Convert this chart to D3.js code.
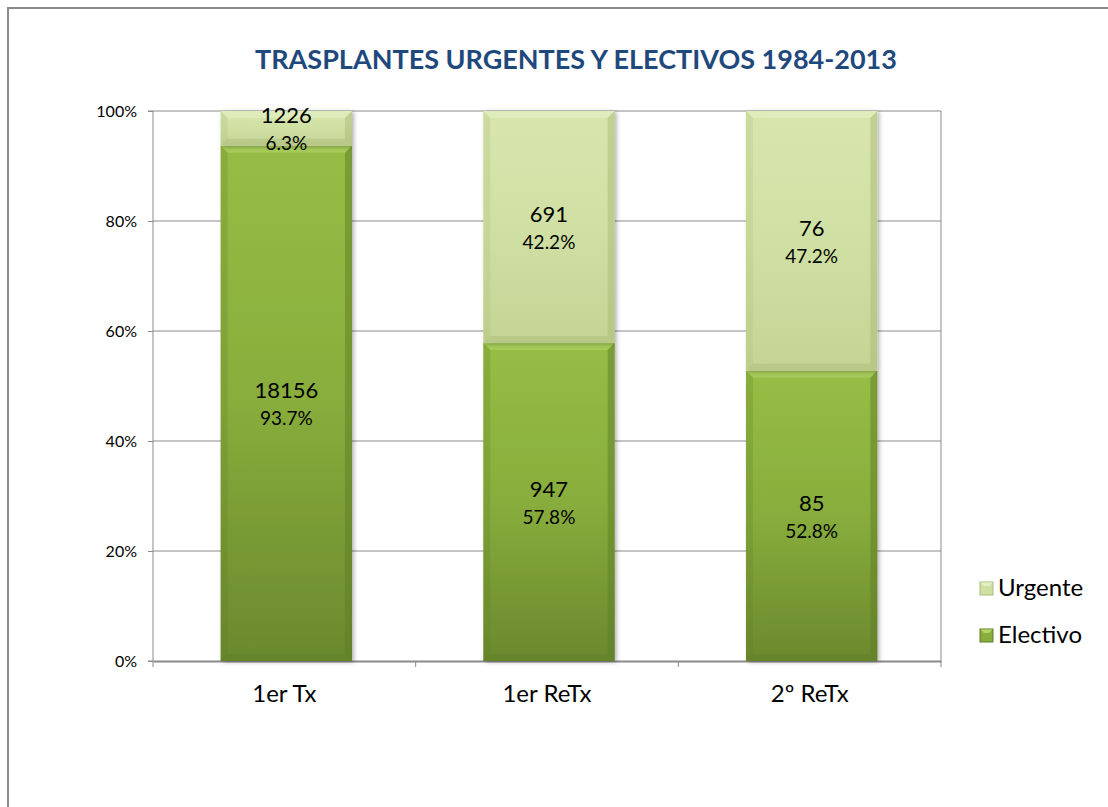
<!DOCTYPE html>
<html>
<head>
<meta charset="utf-8">
<script src="https://cdn.jsdelivr.net/npm/d3@7"></script>
<style>
  html, body { margin: 0; padding: 0; background: #fff; }
  svg { display: block; font-family: Lato, "Open Sans", sans-serif; }
</style>
</head>
<body>
<svg id="chart" width="1108" height="807"></svg>
<script>
const TITLE = 'TRASPLANTES URGENTES Y ELECTIVOS 1984-2013';
const CATEGORIES = ['1er Tx', '1er ReTx', '2º ReTx'];
const SERIES = ['Electivo', 'Urgente'];
const ELECTIVO = [18156, 947, 85];
const URGENTE = [1226, 691, 76];
const Y_TICKS = [0, 0.2, 0.4, 0.6, 0.8, 1];

const COLORS = {
  Electivo: { top: '#97bd45', mid: '#88ad3c', bot: '#6a892d', light: '#b3d567', dark: '#5f7c27' },
  Urgente: { top: '#d8e6ae', mid: '#d0e0a3', bot: '#c4d494', light: '#e6f0c8', dark: '#a9ba78' }
};

const svg = d3.select('#chart');
const margin = { left: 153, top: 111, right: 167, bottom: 146 };
const width = 1108 - margin.left - margin.right;
const height = 807 - margin.top - margin.bottom;

const rows = CATEGORIES.map((c, i) => ({ cat: c, Electivo: ELECTIVO[i], Urgente: URGENTE[i] }));
const stacked = d3.stack().keys(SERIES).offset(d3.stackOffsetExpand)(rows);

const x = d3.scaleBand().domain(CATEGORIES).range([0, width]).paddingInner(0).paddingOuter(0);
const y = d3.scaleLinear().domain([0, 1]).range([height, 0]);
const barW = x.bandwidth() * 0.5;

// frame
svg.append('path')
  .attr('d', 'M8,807 L8,8 L1108,8')
  .attr('fill', 'none')
  .attr('stroke', '#8a8a8a')
  .attr('stroke-width', 2);

// gradients
const defs = svg.append('defs');
SERIES.forEach(s => {
  const g = defs.append('linearGradient').attr('id', 'grad-' + s).attr('x1', 0).attr('x2', 0).attr('y1', 0).attr('y2', 1);
  g.append('stop').attr('offset', '0%').attr('stop-color', COLORS[s].top);
  g.append('stop').attr('offset', '50%').attr('stop-color', COLORS[s].mid);
  g.append('stop').attr('offset', '100%').attr('stop-color', COLORS[s].bot);
});
const shadow = defs.append('filter').attr('id', 'shadow').attr('x', '-10%').attr('y', '-10%').attr('width', '130%').attr('height', '120%');
shadow.append('feDropShadow').attr('dx', 2).attr('dy', 1).attr('stdDeviation', 2).attr('flood-color', '#000').attr('flood-opacity', 0.3);

svg.append('text')
  .attr('x', 576)
  .attr('y', 69)
  .attr('text-anchor', 'middle')
  .attr('font-size', 27)
  .attr('font-weight', 'bold')
  .attr('fill', '#1f497d')
  .text(TITLE);

const g = svg.append('g').attr('transform', `translate(${margin.left},${margin.top})`);

// gridlines
g.append('g')
  .selectAll('line')
  .data(Y_TICKS.filter(t => t > 0))
  .join('line')
  .attr('x1', 0).attr('x2', width)
  .attr('y1', d => y(d)).attr('y2', d => y(d))
  .attr('stroke', '#8a8a8a')
  .attr('stroke-width', 1);

// right border of plot
g.append('line')
  .attr('x1', width).attr('x2', width)
  .attr('y1', 0).attr('y2', height)
  .attr('stroke', '#8a8a8a');

// y axis
const yAxis = g.append('g')
  .call(d3.axisLeft(y).tickValues(Y_TICKS).tickFormat(d3.format('.0%')).tickSize(5).tickPadding(11));
yAxis.select('.domain').attr('stroke', '#8a8a8a').attr('d', `M-5,${height}H0V0H-5`);
yAxis.selectAll('.tick line').attr('stroke', '#8a8a8a');
yAxis.selectAll('.tick text').attr('font-size', 16).attr('fill', '#000').attr('font-family', 'Lato, sans-serif');

// x axis
const xAxis = g.append('g')
  .attr('transform', `translate(0,${height})`)
  .call(d3.axisBottom(x).tickSize(0).tickPadding(24));
xAxis.select('.domain').attr('stroke', '#8a8a8a').attr('stroke-width', 2);
xAxis.selectAll('.tick text').attr('font-size', 24).attr('fill', '#000').attr('font-family', 'Lato, sans-serif');
xAxis.append('g')
  .selectAll('line')
  .data(d3.range(CATEGORIES.length + 1))
  .join('line')
  .attr('x1', i => i * x.step()).attr('x2', i => i * x.step())
  .attr('y1', 0).attr('y2', 6)
  .attr('stroke', '#8a8a8a');

// bars
const bev = 7;
stacked.forEach(layer => {
  const s = layer.key;
  const c = COLORS[s];
  const bars = g.append('g').selectAll('g')
    .data(layer.map((d, i) => ({ y0: d[0], y1: d[1], cat: CATEGORIES[i], count: d.data[s] })))
    .join('g')
    .attr('transform', d => `translate(${x(d.cat) + (x.bandwidth() - barW) / 2 + 2},${y(d.y1)})`);

  bars.append('rect')
    .attr('width', barW)
    .attr('height', d => y(d.y0) - y(d.y1))
    .attr('fill', `url(#grad-${s})`)
    .attr('filter', 'url(#shadow)');

  // bevel
  bars.append('path')
    .attr('d', d => `M0,0H${barW}L${barW - bev},${bev}H${bev}Z`)
    .attr('fill', c.light).attr('opacity', 0.55);
  bars.append('path')
    .attr('d', d => { const h = y(d.y0) - y(d.y1); return `M0,0L${bev},${bev}V${h - bev}L0,${h}Z`; })
    .attr('fill', c.dark).attr('opacity', 0.25);
  bars.append('path')
    .attr('d', d => { const h = y(d.y0) - y(d.y1); return `M${barW},0L${barW - bev},${bev}V${h - bev}L${barW},${h}Z`; })
    .attr('fill', c.dark).attr('opacity', 0.5);
  bars.append('path')
    .attr('d', d => { const h = y(d.y0) - y(d.y1); return `M0,${h}L${bev},${h - bev}H${barW - bev}L${barW},${h}Z`; })
    .attr('fill', c.dark).attr('opacity', 0.45);

  bars.append('text')
    .attr('x', barW / 2)
    .attr('y', d => (y(d.y0) - y(d.y1)) / 2 - 5)
    .attr('text-anchor', 'middle')
    .attr('font-size', 22)
    .attr('fill', '#000')
    .text(d => d.count);
  bars.append('text')
    .attr('x', barW / 2)
    .attr('y', d => (y(d.y0) - y(d.y1)) / 2 + 22)
    .attr('text-anchor', 'middle')
    .attr('font-size', 19)
    .attr('fill', '#000')
    .text(d => d3.format('.1%')(d.y1 - d.y0));
});

// legend
const legend = svg.append('g').attr('transform', 'translate(980,0)');
const legendItems = [{ key: 'Urgente', y: 588 }, { key: 'Electivo', y: 635 }];
legendItems.forEach(it => {
  const c = COLORS[it.key];
  legend.append('rect').attr('x', 0).attr('y', it.y - 6).attr('width', 13).attr('height', 13)
    .attr('fill', c.mid).attr('stroke', c.dark).attr('stroke-width', 1);
  legend.append('path').attr('d', `M0.5,${it.y - 5.5}H12.5L9,${it.y - 2}H4Z`).attr('fill', c.light);
  legend.append('text').attr('x', 18).attr('y', it.y + 8).attr('font-size', 24).attr('fill', '#000').text(it.key);
});
</script>
</body>
</html>
